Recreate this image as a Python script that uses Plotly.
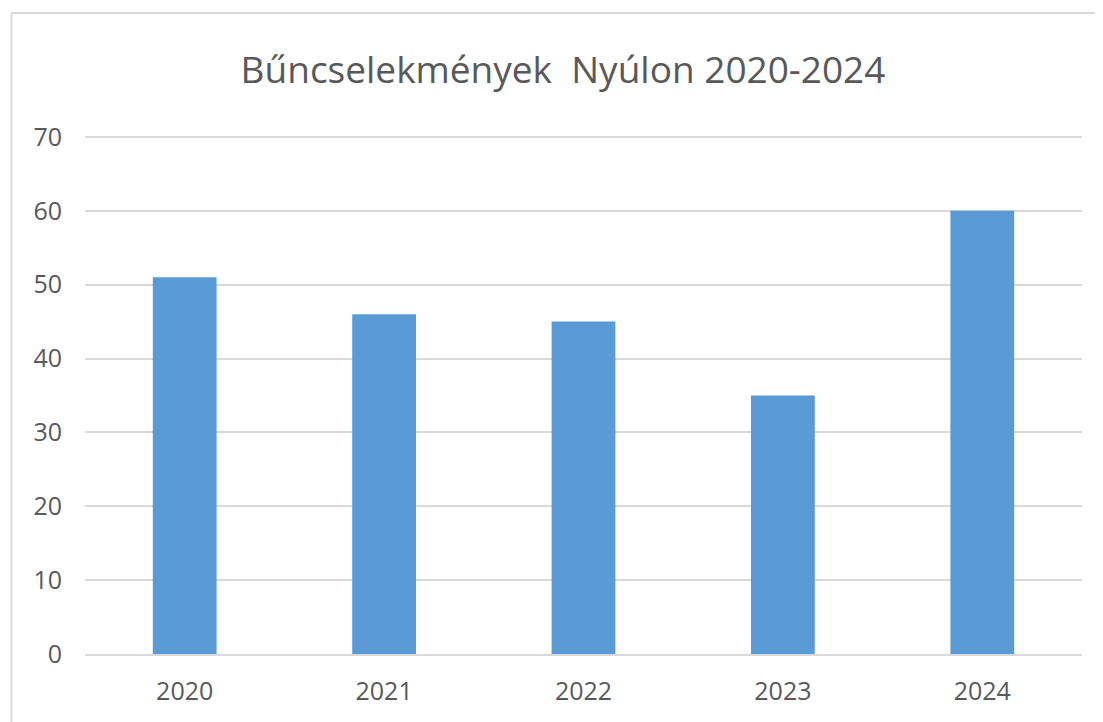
import plotly.graph_objects as go

years = ["2020", "2021", "2022", "2023", "2024"]
crimes = [51, 46, 45, 35, 60]
y_ticks = [0, 10, 20, 30, 40, 50, 60, 70]
title_text = "Bűncselekmények  Nyúlon 2020-2024"

OFF = 8  # page body margin
W, H = 1103, 722
y_top = 70.4
L, R, B = 85, 1082, 654
T = round(B - (B - 137) * y_top / 70)
pw, ph = R - L, B - T

def px(x):
    return (x - L) / pw

def py(y):
    return (B - y) / ph

fig = go.Figure(go.Bar(x=years, y=crimes, marker=dict(color="#5b9bd5", line=dict(width=0)), width=0.32))

fig.update_layout(
    width=W - OFF, height=H - OFF,
    margin=dict(l=L - OFF, r=W - R, t=T - OFF, b=H - B, pad=0),
    paper_bgcolor="white", plot_bgcolor="white",
    font=dict(family="Open Sans", color="#595959", size=25),
    title=dict(text=title_text, x=px(563), xref="paper", xanchor="center",
               y=1 - (70 - OFF) / (H - OFF), yanchor="middle", font=dict(size=37, color="#595959")),
    showlegend=False,
    shapes=[dict(type="rect", xref="paper", yref="paper",
                 x0=px(11.5), x1=px(1130), y0=py(760), y1=py(13),
                 line=dict(color="#d9d9d9", width=2), fillcolor="rgba(0,0,0,0)", layer="below")],
)
fig.update_xaxes(showgrid=False, showline=True, linecolor="#d9d9d9", linewidth=2,
                 ticks="", ticklabelstandoff=14, tickfont=dict(size=25, color="#595959"))
fig.update_yaxes(range=[0, y_top], tickvals=y_ticks, showgrid=True, gridcolor="#d9d9d9", gridwidth=2,
                 zeroline=False, showline=False, ticks="", ticklabelstandoff=22,
                 tickfont=dict(size=25, color="#595959"))

fig.write_html("out.html")
